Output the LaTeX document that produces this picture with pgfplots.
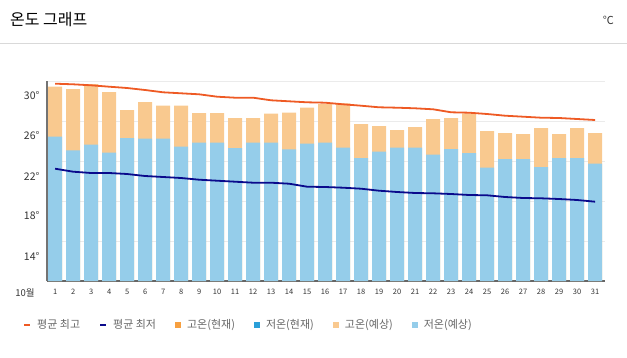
\documentclass[border=0pt]{standalone}
\usepackage{pgfplots}
\pgfplotsset{compat=1.18}
\usepackage{pgfplotstable}
\usepackage{fontspec}
\setmainfont{Noto Sans CJK KR}
\definecolor{hibar}{HTML}{F9C98F}
\definecolor{lobar}{HTML}{95CDEA}
\definecolor{hiline}{HTML}{EE5A24}
\definecolor{loline}{HTML}{0A0A8C}
\definecolor{hicur}{HTML}{F7A040}
\definecolor{locur}{HTML}{2A9FD8}
\definecolor{gridc}{HTML}{EBEBEB}
\definecolor{txt}{HTML}{333333}
\definecolor{legtxt}{HTML}{666666}

\pgfplotstableread{
day hi lo ahi alo
1 29.43 24.43 29.73 21.23
2 29.20 23.07 29.67 20.93
3 29.70 23.63 29.57 20.80
4 28.90 22.83 29.43 20.80
5 27.10 24.30 29.30 20.70
6 27.90 24.23 29.10 20.50
7 27.53 24.23 28.87 20.40
8 27.53 23.43 28.77 20.30
9 26.80 23.83 28.67 20.13
10 26.80 23.83 28.43 20.03
11 26.30 23.30 28.33 19.93
12 26.30 23.83 28.33 19.83
13 26.73 23.83 28.07 19.83
14 26.83 23.17 27.97 19.73
15 27.33 23.73 27.87 19.43
16 27.70 23.83 27.83 19.40
17 27.77 23.33 27.67 19.33
18 25.70 22.30 27.53 19.23
19 25.50 22.93 27.37 19.03
20 25.10 23.33 27.33 18.90
21 25.40 23.33 27.27 18.80
22 26.20 22.63 27.17 18.77
23 26.30 23.20 26.87 18.70
24 26.77 22.80 26.83 18.60
25 25.00 21.33 26.70 18.57
26 24.80 22.20 26.53 18.40
27 24.70 22.20 26.43 18.30
28 25.30 21.40 26.33 18.27
29 24.70 22.30 26.30 18.20
30 25.30 22.30 26.20 18.10
31 24.80 21.73 26.10 17.93
}\temps

\begin{document}
\begin{tikzpicture}
\path[use as bounding box] (0,0) rectangle (627pt,357pt);
\node[anchor=west, inner sep=0pt, font=\fontsize{16}{19}\selectfont, text=black] at (10pt,337pt) {온도 그래프};
\node[anchor=east, inner sep=0pt, font=\fontsize{11}{13}\selectfont, text=txt] at (614pt,337pt) {℃};
\draw[color=gray!30, line width=1pt] (0pt,313pt) -- (627pt,313pt);

\begin{axis}[
  at={(47pt,76pt)}, anchor=south west,
  scale only axis, width=558pt, height=200pt,
  xmin=0.55, xmax=31.55, ymin=10, ymax=30,
  axis x line*=bottom, axis y line*=left,
  x axis line style={draw=black!60, line width=2pt, -},
  y axis line style={draw=black!55, line width=1.5pt, -},
  major tick length=0pt,
  xtick={1,...,31},
  ytick={14,18,22,26,30},
  yticklabels={14°,18°,22°,26°,30°},
  ymajorgrids, grid style={color=gridc, line width=1pt},
  /pgf/number format/assume math mode=true,
  xticklabel style={font=\fontsize{7.5}{9}\selectfont, text=txt, yshift=-5pt},
  yticklabel style={font=\fontsize{10.5}{12}\selectfont, text=txt, anchor=east, yshift=-15pt, xshift=-4pt},
  legend style={at={(-0.043,-0.22)}, anchor=west, draw=none, fill=none, inner sep=0pt,
    font=\fontsize{11}{13}\selectfont, text=legtxt,
    /tikz/every odd column/.append style={column sep=4pt},
    /tikz/every even column/.append style={column sep=17pt}},
  legend columns=6,
]
\addplot[ybar, bar width=14pt, bar shift=0pt, fill=hibar, draw=none, forget plot] table[x=day, y=hi] {\temps};
\addplot[ybar, bar width=14pt, bar shift=0pt, fill=lobar, draw=none, forget plot] table[x=day, y=lo] {\temps};
\addplot[color=hiline, line width=1.8pt, line join=round, forget plot] table[x=day, y=ahi] {\temps};
\addplot[color=loline, line width=1.8pt, line join=round, forget plot] table[x=day, y=alo] {\temps};

\addlegendimage{color=hiline, legend image code/.code={\draw[line width=2pt] (0pt,0pt) -- (6pt,0pt);}}
\addlegendentry{평균 최고}
\addlegendimage{color=loline, legend image code/.code={\draw[line width=2pt] (0pt,0pt) -- (6pt,0pt);}}
\addlegendentry{평균 최저}
\addlegendimage{draw=none, fill=hicur, legend image code/.code={\fill[draw=none] (0pt,-3pt) rectangle (6pt,3pt);}}
\addlegendentry{고온(현재)}
\addlegendimage{draw=none, fill=locur, legend image code/.code={\fill[draw=none] (0pt,-3pt) rectangle (6pt,3pt);}}
\addlegendentry{저온(현재)}
\addlegendimage{draw=none, fill=hibar, legend image code/.code={\fill[draw=none] (0pt,-3pt) rectangle (6pt,3pt);}}
\addlegendentry{고온(예상)}
\addlegendimage{draw=none, fill=lobar, legend image code/.code={\fill[draw=none] (0pt,-3pt) rectangle (6pt,3pt);}}
\addlegendentry{저온(예상)}
\end{axis}
\node[inner sep=0pt, font=\fontsize{9.5}{11}\selectfont, text=txt] at (25pt,64pt) {10월};
\end{tikzpicture}
\end{document}
